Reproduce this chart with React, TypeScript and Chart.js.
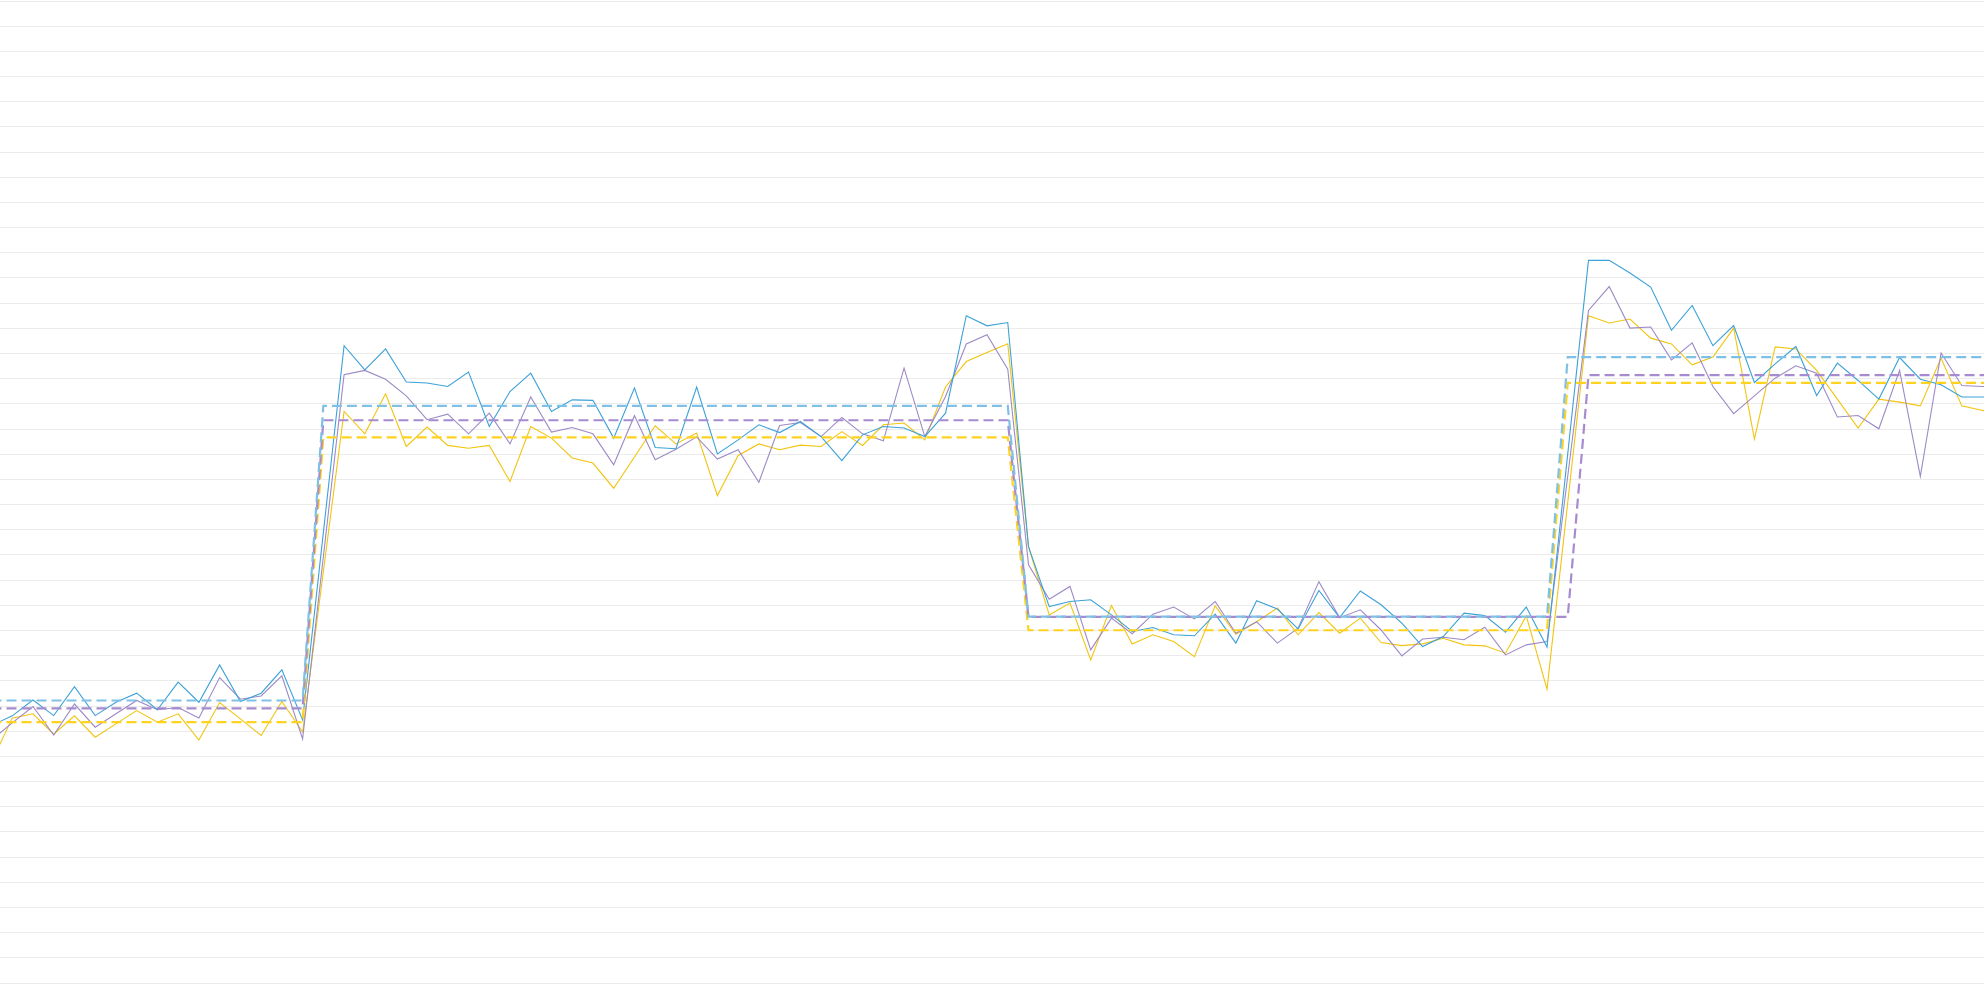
import React, { useEffect, useRef } from 'react';
import Chart from 'chart.js/auto';

// x positions (one per sample); the first one sits just off the left edge
const indices = Array.from({ length: 98 }, (_, i) => i);

// measured series (null = no sample at that step)
const blueValues = [
  102.3, 106.1, 112.4, 106.2, 117.7, 106.2, 111.5, 115.1, 108.5, 119.5,
  111.5, 126.3, 111.8, 115.1, 124.4, 104.5, null, 253.1, 243.5, 251.8,
  238.7, 238.3, 236.9, 242.6, 221.0, 234.9, 242.2, 227.0, 231.6, 231.4,
  216.4, 236.3, 212.7, 212.2, 236.7, 210.1, 215.7, 221.7, 218.6, 223.0,
  217.0, 207.5, 217.7, 221.0, 220.4, 217.0, 226.3, 265.0, 261.0, 262.3,
  173.3, 149.5, 151.5, 152.2, 146.2, 139.6, 141.2, 138.3, 137.9, 146.5,
  135.0, 151.8, 148.5, 140.6, 155.9, 145.1, 155.7, 150.2, 142.9, 133.6,
  137.6, 146.9, 145.9, 139.3, 149.3, 133.4, null, 287.0, 287.0, 282.0,
  276.4, 259.2, 269.1, 253.1, 261.1, 238.5, 245.9, 252.8, 233.3, 246.2,
  239.3, 231.9, 248.4, 239.8, 237.6, 232.7, 232.7, 233.2,
];

const purpleValues = [
  96.5, 103.3, 109.8, 98.5, 110.8, 101.6, 106.9, 112.2, 108.5, 109.4,
  105.2, 121.3, 112.7, 114.0, 122.0, 96.9, null, 241.6, 243.3, 239.8,
  233.2, 223.7, 225.9, 218.1, 226.3, 214.1, 232.7, 218.8, 220.6, 218.1,
  205.8, 225.3, 207.8, 212.0, 216.9, 208.1, 211.8, 198.9, 221.4, 222.6,
  217.0, 224.6, 218.1, 215.3, 244.2, 217.0, 232.9, 253.8, 257.5, 243.8,
  166.1, 152.4, 157.5, 132.3, 144.9, 138.7, 146.5, 149.3, 144.6, 151.5,
  138.9, 143.5, 135.0, 140.9, 159.4, 145.1, 148.2, 140.2, 129.9, 136.6,
  137.3, 136.3, 141.3, 130.3, 134.3, 135.6, null, 267.1, 276.6, 260.1,
  260.5, 247.5, 254.2, 236.9, 226.1, 233.2, 240.2, 245.1, 242.2, 224.8,
  225.4, 220.1, 243.3, 201.2, 250.2, 237.3, 236.9, 236.8,
];

const yellowValues = [
  87.8, 105.2, 106.9, 98.8, 106.1, 97.6, 102.9, 108.2, 103.6, 106.9,
  96.5, 111.4, 104.9, 98.3, 111.8, 99.7, null, 227.0, 218.1, 234.0,
  213.1, 220.8, 213.5, 212.4, 213.5, 199.2, 221.0, 216.4, 208.5, 206.5,
  196.5, 208.9, 221.3, 214.1, 218.4, 193.6, 209.5, 214.1, 211.8, 213.6,
  213.1, 219.0, 213.5, 221.7, 222.4, 215.7, 236.7, 246.8, 250.4, 253.9,
  173.3, 146.2, 150.9, 128.3, 149.9, 134.6, 138.3, 135.6, 129.6, 149.8,
  138.5, 143.5, 148.9, 138.3, 147.1, 138.9, 144.9, 135.2, 134.0, 134.7,
  136.9, 134.3, 133.9, 131.0, 145.8, 116.7, null, 265.0, 262.1, 263.7,
  256.1, 253.8, 245.5, 248.6, 260.1, 216.0, 252.6, 251.8, 243.3, 231.9,
  220.4, 231.9, 230.7, 229.2, 248.2, 229.2, 227.4, 226.5,
];

// period averages as [index, level] corner points
const blueAverage = [[0, 112.2], [15, 112.2], [16, 229.2], [49, 229.2], [50, 145.5], [75, 145.5], [76, 248.6], [97, 248.6]];
const purpleAverage = [[0, 109.1], [15, 109.1], [16, 223.5], [49, 223.5], [50, 145.4], [76, 145.4], [77, 241.4], [97, 241.4]];
const yellowAverage = [[0, 103.6], [15, 103.6], [16, 216.7], [49, 216.7], [50, 140.1], [75, 140.1], [76, 238.3], [97, 238.3]];

const toPoints = (values: (number | null)[]) => values.map((v, i) => ({ x: indices[i], y: v }));
const toSteps = (corners: number[][]) => corners.map(([x, y]) => ({ x, y }));

const App: React.FC = () => {
  const chartRef = useRef<HTMLCanvasElement>(null);
  const chartInstance = useRef<Chart | null>(null);

  useEffect(() => {
    if (!chartRef.current) return;
    if (chartInstance.current) chartInstance.current.destroy();

    chartInstance.current = new Chart(chartRef.current, {
      type: 'line',
      data: {
        datasets: [
          { label: 'Blue average', data: toSteps(blueAverage), borderColor: '#7fc1e6', borderWidth: 2.2, borderDash: [10, 5] },
          { label: 'Purple average', data: toSteps(purpleAverage), borderColor: '#a68bd0', borderWidth: 2.2, borderDash: [10, 5] },
          { label: 'Yellow average', data: toSteps(yellowAverage), borderColor: '#ffd21f', borderWidth: 2.2, borderDash: [10, 5] },
          { label: 'Blue', data: toPoints(blueValues), borderColor: '#3ba1d8', borderWidth: 1.1, spanGaps: true },
          { label: 'Purple', data: toPoints(purpleValues), borderColor: '#9d8ac6', borderWidth: 1.1, spanGaps: true },
          { label: 'Yellow', data: toPoints(yellowValues), borderColor: '#f2c40f', borderWidth: 1.1, spanGaps: true },
        ],
      },
      options: {
        animation: false,
        responsive: true,
        maintainAspectRatio: false,
        layout: { padding: { top: 1, bottom: 24, left: 0, right: 0 } },
        plugins: {
          legend: { display: false },
          tooltip: { enabled: false },
        },
        elements: {
          point: { radius: 0, hoverRadius: 0 },
          line: { tension: 0 },
        },
        scales: {
          x: { type: 'linear', display: false, min: 0.41, max: 96.07 },
          y: {
            min: 0,
            max: 390,
            ticks: { display: false, stepSize: 10 },
            grid: { color: '#ebebeb', drawTicks: false },
            border: { display: false },
          },
        },
      },
    });

    return () => {
      if (chartInstance.current) {
        chartInstance.current.destroy();
        chartInstance.current = null;
      }
    };
  }, []);

  return (
    <div style={{ position: 'fixed', left: 0, top: 0, width: '100vw', height: '100vh', background: '#fff' }}>
      <canvas ref={chartRef}></canvas>
    </div>
  );
};

export default App;
